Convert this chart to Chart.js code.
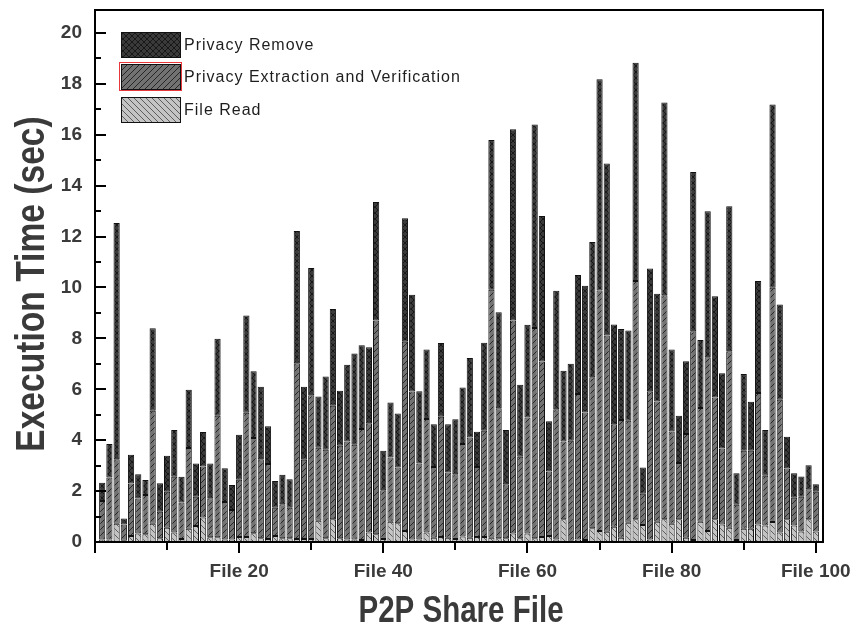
<!DOCTYPE html>
<html>
<head>
<meta charset="utf-8">
<script src="https://cdn.jsdelivr.net/npm/chart.js@4.4.1/dist/chart.umd.min.js"></script>
<style>
  body { margin: 0; background: #fff; }
  #wrap { width: 861px; height: 626px; }
</style>
</head>
<body>
<div id="wrap"><canvas id="chart"></canvas></div>
<script>
// file numbers on the x axis
const fileNo = Array.from({ length: 100 }, (_, i) => i + 1);
const xTickLabels = ['File 20', 'File 40', 'File 60', 'File 80', 'File 100'];
const yTicks = [0, 2, 4, 6, 8, 10, 12, 14, 16, 18, 20];
const seriesNames = ['File Read', 'Privacy Extraction and Verification', 'Privacy Remove'];

// segment heights (sec)
const fileRead = [
  .10, .10, .72, .05, .24, .33, .30, .72, .15, .56,
  .37, .12, .52, .63, .96, .19, .19, .10, .10, .20,
  .20, .34, .15, .12, .24, .15, .15, .12, .12, .12,
  .83, .15, .89, .15, .10, .10, .08, .37, .30, .12,
  .80, .74, .43, .10, .10, .37, .17, .20, .17, .12,
  .22, .17, .20, .20, .17, .15, .15, .33, .15, .33,
  .15, .20, .24, .10, .89, .05, .10, .08, .54, .43,
  .40, .60, .17, .76, .89, .67, .10, .80, .89, .72,
  .89, .17, .08, .80, .43, .89, .69, .56, .08, .52,
  .52, .69, .65, .79, .37, .89, .65, .41, .89, .41
];
const extraction = [
  1.51, 2.43, 2.53, 0.64, 2.06, 1.38, 1.55, 4.44, 1.04, 1.41,
  2.19, 1.43, 3.17, 1.15, 2.01, 1.53, 4.77, 1.47, 1.16, 2.25,
  4.88, 3.75, 3.10, 2.94, 1.11, 1.33, 1.20, 6.90, 3.11, 5.65,
  2.87, 3.47, 4.46, 3.63, 3.85, 3.72, 4.36, 4.30, 8.40, 1.91,
  2.52, 2.19, 7.44, 5.81, 2.98, 4.46, 2.78, 4.72, 2.56, 2.54,
  3.63, 3.94, 2.75, 4.17, 9.74, 5.10, 2.12, 8.37, 3.20, 4.56,
  8.26, 6.89, 2.53, 5.12, 3.06, 3.93, 5.71, 5.01, 5.93, 9.45,
  7.71, 4.03, 4.62, 4.00, 9.36, 1.23, 5.82, 4.72, 8.80, 3.62,
  2.21, 4.07, 8.20, 4.46, 6.83, 4.79, 2.98, 6.93, 1.38, 3.06,
  3.06, 5.16, 1.95, 9.20, 5.22, 2.00, 1.09, 1.37, 1.18, 1.56
];
const privacyRemove = [
  0.72, 1.32, 9.28, 0.23, 1.13, 0.95, 0.59, 3.24, 1.12, 1.42,
  1.84, 1.01, 2.29, 1.30, 1.35, 1.36, 3.02, 1.33, 0.98, 1.76,
  3.82, 2.62, 2.85, 1.49, 1.05, 1.16, 1.12, 5.20, 2.87, 4.99,
  2.02, 2.88, 3.80, 2.16, 3.01, 3.59, 3.29, 2.98, 4.66, 1.55,
  2.16, 2.12, 4.85, 3.80, 2.84, 2.73, 1.68, 2.90, 1.90, 2.16,
  2.22, 3.12, 1.38, 3.46, 5.88, 3.78, 2.13, 7.52, 2.83, 3.64,
  7.99, 5.72, 1.97, 4.65, 2.78, 3.02, 4.68, 4.98, 5.32, 8.30,
  6.76, 3.91, 3.58, 3.55, 8.58, 1.03, 4.82, 4.23, 7.58, 3.22,
  1.86, 2.86, 6.26, 2.68, 5.73, 3.97, 2.96, 5.70, 1.24, 3.02,
  1.93, 4.40, 1.80, 7.20, 3.74, 1.24, 0.96, 0.79, 0.95, 0.30
];

const sans = "'Liberation Sans', Arial, sans-serif";
const textGrey = '#3a3a3a';

// hatch fills like the original plot
function hatch(bg, line, kind) {
  const c = document.createElement('canvas');
  c.width = 6; c.height = 6;
  const g = c.getContext('2d');
  g.fillStyle = bg;
  g.fillRect(0, 0, 6, 6);
  g.strokeStyle = line;
  g.lineWidth = 1;
  g.beginPath();
  if (kind === 'fwd' || kind === 'cross') {
    g.moveTo(-1, 7); g.lineTo(7, -1);
    g.moveTo(-1, 1); g.lineTo(1, -1);
    g.moveTo(5, 7); g.lineTo(7, 5);
  }
  if (kind === 'back' || kind === 'cross') {
    g.moveTo(-1, -1); g.lineTo(7, 7);
    g.moveTo(5, -1); g.lineTo(7, 1);
    g.moveTo(-1, 5); g.lineTo(1, 7);
  }
  g.stroke();
  return g.createPattern(c, 'repeat');
}
const fills = [
  hatch('#c4c4c4', '#5e5e5e', 'back'),
  hatch('#727272', '#262626', 'fwd'),
  hatch('#3a3a3a', '#181818', 'cross')
];

const toPoints = arr => arr.map((v, i) => ({ x: fileNo[i], y: v }));

// narrow-looking bold text (the original uses a condensed face)
function narrowText(ctx, text, x, y, size, squeeze, angle) {
  ctx.save();
  ctx.translate(x, y);
  if (angle) ctx.rotate(angle);
  ctx.scale(squeeze, 1);
  ctx.font = 'bold ' + size + 'px ' + sans;
  ctx.fillStyle = textGrey;
  ctx.textAlign = 'center';
  ctx.textBaseline = 'alphabetic';
  ctx.fillText(text, 0, 0);
  ctx.restore();
}

// frame, inner y ticks, outer x ticks, axis titles and the legend box
const decor = {
  id: 'decor',
  afterDraw(chart) {
    const { ctx, chartArea: a, scales: { x, y } } = chart;
    ctx.save();
    ctx.strokeStyle = '#000';
    ctx.lineWidth = 2;
    ctx.strokeRect(a.left, a.top, a.right - a.left, a.bottom - a.top);
    for (let v = 1; v <= 20; v++) {
      const py = Math.round(y.getPixelForValue(v));
      ctx.beginPath();
      ctx.moveTo(a.left, py);
      ctx.lineTo(a.left + (v % 2 === 0 ? 11 : 6), py);
      ctx.stroke();
    }
    for (let v = 0; v <= 100; v += 10) {
      const px = Math.round(x.getPixelForValue(v));
      ctx.beginPath();
      ctx.moveTo(px, a.bottom);
      ctx.lineTo(px, a.bottom + (v % 20 === 0 ? 11 : 8));
      ctx.stroke();
    }
    ctx.restore();

    narrowText(ctx, 'P2P Share File', 461, 622, 36, 0.82, 0);
    narrowText(ctx, 'Execution Time (sec)', 44, 284, 40, 0.84, -Math.PI / 2);

    // legend, top item is the top of the stack
    ctx.save();
    const items = [2, 1, 0];
    const tops = [32, 64, 97];
    ctx.font = '16px ' + sans;
    ctx.letterSpacing = '1px';
    ctx.textBaseline = 'middle';
    items.forEach((d, k) => {
      const bx = 121, by = tops[k], bw = 59, bh = 25;
      ctx.fillStyle = fills[d];
      ctx.fillRect(bx, by, bw, bh);
      ctx.lineWidth = 1;
      ctx.strokeStyle = '#111';
      ctx.strokeRect(bx + 0.5, by + 0.5, bw, bh);
      if (d === 1) {
        ctx.strokeStyle = '#e8383d';
        ctx.strokeRect(bx - 1.5, by - 1.5, bw + 3, bh + 3);
      }
      ctx.fillStyle = '#1e1e1e';
      ctx.fillText(seriesNames[d], 184, by + bh / 2 + 1);
    });
    ctx.restore();
  }
};

const datasets = [fileRead, extraction, privacyRemove].map((arr, d) => ({
  label: seriesNames[d],
  data: toPoints(arr),
  backgroundColor: fills[d],
  borderColor: '#111',
  borderWidth: 1,
  borderSkipped: false,
  barPercentage: 0.86,
  categoryPercentage: 1
}));

new Chart(document.getElementById('chart'), {
  type: 'bar',
  data: { datasets },
  options: {
    responsive: true,
    maintainAspectRatio: false,
    animation: false,
    layout: { padding: { top: 10, right: 38, left: 0, bottom: 0 } },
    plugins: { legend: { display: false }, tooltip: { enabled: false } },
    scales: {
      x: {
        type: 'linear',
        stacked: true,
        offset: false,
        min: 0,
        max: 101,
        grid: { display: false, drawTicks: false, offset: false },
        border: { display: false },
        ticks: {
          stepSize: 10,
          includeBounds: false,
          autoSkip: false,
          maxRotation: 0,
          padding: 18,
          color: textGrey,
          font: { family: sans, size: 19, weight: 'bold' },
          callback: v => (v > 0 && v % 20 === 0) ? xTickLabels[v / 20 - 1] : ''
        },
        afterFit: s => {
          s.height = 84;
          s.paddingLeft = 0;
          s.paddingRight = 0;
        }
      },
      y: {
        stacked: true,
        min: 0,
        max: 20.9,
        grid: { display: false, drawTicks: false },
        border: { display: false },
        afterBuildTicks: s => { s.ticks = yTicks.map(v => ({ value: v })); },
        ticks: {
          padding: 13,
          color: textGrey,
          font: { family: sans, size: 19, weight: 'bold' }
        },
        afterFit: s => {
          s.width = 95;
          s.paddingTop = 0;
          s.paddingBottom = 0;
        }
      }
    }
  },
  plugins: [decor]
});
</script>
</body>
</html>
